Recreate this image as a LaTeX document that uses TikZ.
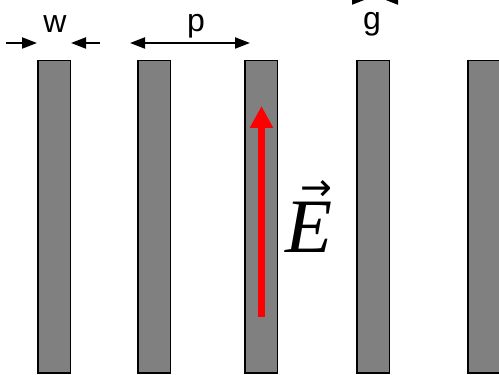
\documentclass[tikz,border=0pt]{standalone}
\usepackage{fontspec}
\setmainfont{Liberation Sans}
\newfontfamily\serifface{Liberation Serif}
\newfontfamily\arrowface{DejaVu Sans}
\usetikzlibrary{arrows.meta}
\begin{document}
\begin{tikzpicture}[x=1pt,y=1pt,
  bar/.style={draw=black,line width=1.5pt,fill={rgb,255:red,128;green,128;blue,128},
    minimum width=32.5pt,minimum height=312.5pt,inner sep=0pt},
  dimarrow/.style={line width=2pt,-{Triangle[length=15pt,width=11pt]}},
  dimlabel/.style={font=\fontsize{32}{34}\selectfont,anchor=base,inner sep=0pt},
  field/.style={red,line width=7pt,-{Triangle[length=22pt,width=22pt]}}]
\useasboundingbox (0,0) rectangle (499,375);
\node[bar] (b1) at (54,158) {};
\node[bar] (b2) at (154,158) {};
\node[bar] (b3) at (261,158) {};
\node[bar] (b4) at (373,158) {};
\node[bar] (b5) at (484,158) {};
% w
\coordinate (w1) at (6,332);
\coordinate (w1t) at (37,332);
\coordinate (w2) at (100,332);
\coordinate (w2t) at (71,332);
\draw[dimarrow] (w1) -- (w1t);
\draw[dimarrow] (w2) -- (w2t);
\node[dimlabel] (wl) at (55,342) {w};
% p
\coordinate (p1) at (130,332);
\coordinate (p2) at (250,332);
\draw[dimarrow,{Triangle[length=15pt,width=11pt]}-{Triangle[length=15pt,width=11pt]}] (p1) -- (p2);
\node[dimlabel] (pl) at (196,343.7) {p};
% g
\coordinate (g1) at (333,376);
\coordinate (g1t) at (367,376);
\coordinate (g2) at (415,376);
\coordinate (g2t) at (383,376);
\draw[dimarrow] (g1) -- (g1t);
\draw[dimarrow] (g2) -- (g2t);
\node[dimlabel] (gl) at (372,345.7) {g};
% field
\coordinate (e1) at (261.5,58);
\coordinate (e2) at (261.5,269);
\draw[field] (e1) -- (e2);
\node[inner sep=0pt,anchor=base west] (el) at (285,122)
  {\fontsize{77}{80}\selectfont\serifface\itshape E\llap{\raisebox{52pt}{\arrowface\upshape\fontsize{38}{38}\selectfont →}}};
\end{tikzpicture}
\end{document}
